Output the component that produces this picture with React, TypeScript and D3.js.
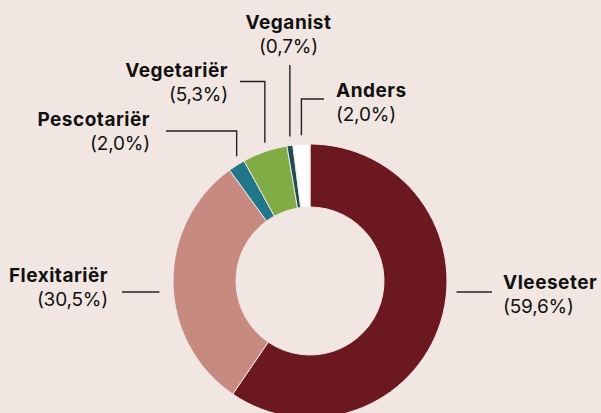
import React, { useEffect } from 'react'
import * as d3 from 'd3'

// data
const categories = ['Vleeseter', 'Flexitariër', 'Pescotariër', 'Vegetariër', 'Veganist', 'Anders']
const shares = [59.6, 30.5, 2.0, 5.3, 0.7, 2.0]
const shareLabels = ['(59,6%)', '(30,5%)', '(2,0%)', '(5,3%)', '(0,7%)', '(2,0%)']
const colors = ['#6b1820', '#c68a80', '#1f7789', '#80ab45', '#1e4d52', '#ffffff']

// label layout: kind, text x, name baseline, anchor, and where the leader line starts
const labelLayout = [
  { kind: 'side', x: 503, y: 289, anchor: 'start', lineY: 292, lineStart: 492 },
  { kind: 'side', x: 108, y: 282, anchor: 'end', lineY: 292, lineStart: 122 },
  { kind: 'elbow', x: 150, y: 126, anchor: 'end', lineY: 131, lineStart: 166 },
  { kind: 'elbow', x: 228, y: 77, anchor: 'end', lineY: 81.5, lineStart: 240 },
  { kind: 'top', x: 288.5, y: 29, anchor: 'middle', lineY: 65, lineStart: 0 },
  { kind: 'elbow', x: 336, y: 97, anchor: 'start', lineY: 99, lineStart: 324 }
]

const W = 601
const H = 413
const cx = 310
const cy = 281
const outerR = 137
const innerR = 74
const gap = 9

export default function App () {
  useEffect(() => {
    document.body.style.margin = '0'
  }, [])

  const rows = categories.map((c, i) => ({ name: c, value: shares[i], label: shareLabels[i], color: colors[i], layout: labelLayout[i] }))

  const pie = d3.pie<any>().sort(null).value(d => d.value).startAngle(0).endAngle(2 * Math.PI)
  const arc = d3.arc<any>().innerRadius(innerR).outerRadius(outerR)
  const arcs = pie(rows)

  const leader = (a: any) => {
    const L = a.data.layout
    const mid = (a.startAngle + a.endAngle) / 2
    if (L.kind === 'side') {
      // horizontal line beside the ring, ending a bit off its edge
      const dy = L.lineY - cy
      const dx = Math.sqrt(outerR * outerR - dy * dy)
      const x2 = L.anchor === 'start' ? cx + dx + 10 : cx - dx - 14
      return `M${L.lineStart},${L.lineY}H${x2}`
    }
    const px = cx + outerR * Math.sin(mid)
    const py = cy - outerR * Math.cos(mid) - gap
    if (L.kind === 'top') return `M${px},${L.lineY}V${py}`
    return `M${L.lineStart},${L.lineY}H${px}V${py}`
  }

  return (
    <svg width={W} height={H} style={{ display: 'block' }}>
      <rect width={W} height={H} fill='#f2e6e2' />
      <g transform={`translate(${cx},${cy})`}>
        {arcs.map((a, i) => (
          <path key={i} d={arc(a) || ''} fill={a.data.color} stroke='#f2e6e2' strokeWidth={1} />
        ))}
      </g>
      {arcs.map((a, i) => {
        const L = a.data.layout
        return (
          <g key={'l' + i} fontFamily='Inter, sans-serif' fontSize={19} fill='#111'>
            <path d={leader(a)} fill='none' stroke='#222' strokeWidth={1.4} />
            <text x={L.x} y={L.y} textAnchor={L.anchor} fontWeight={650} letterSpacing={0.5}>{a.data.name}</text>
            <text x={L.x} y={L.y + 24} textAnchor={L.anchor} fontWeight={400} letterSpacing={-0.2}>{a.data.label}</text>
          </g>
        )
      })}
    </svg>
  )
}
